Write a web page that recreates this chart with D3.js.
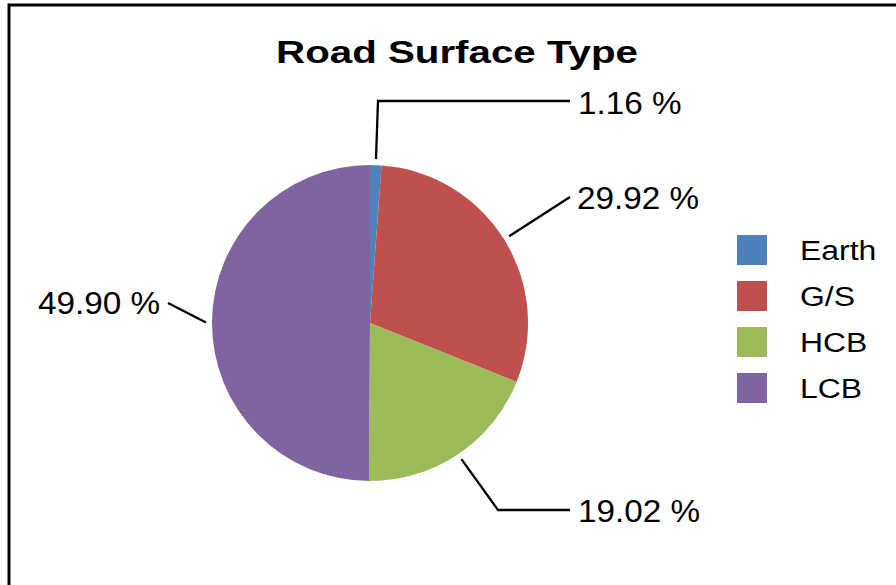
<!DOCTYPE html>
<html>
<head>
<meta charset="utf-8">
<script src="https://cdn.jsdelivr.net/npm/d3@7/dist/d3.min.js"></script>
<style>
  html, body { margin: 0; padding: 0; background: #fff; }
  svg { display: block; font-family: "Liberation Sans", Arial, sans-serif; }
</style>
</head>
<body>
<svg id="chart" width="896" height="585"></svg>
<script>
// ---- data ----
const categories = ["Earth", "G/S", "HCB", "LCB"];
const values = [1.16, 29.92, 19.02, 49.90];
const labels = ["1.16 %", "29.92 %", "19.02 %", "49.90 %"];
const colors = ["#4F81BD", "#C0504D", "#9BBB59", "#8064A2"];
const title = "Road Surface Type";

// ---- layout (style) ----
const W = 896, H = 585;
const cx = 370, cy = 323, R = 158;
const leaders = [
  { elbow: [378, 101], end: [570, 101], lx: 578, ly: 102, anchor: "start" },
  { elbow: null, end: [570, 197], lx: 577, ly: 197, anchor: "start" },
  { elbow: [498, 510], end: [570, 510], lx: 578, ly: 510, anchor: "start" },
  { elbow: null, end: [168, 303], lx: 160, ly: 302, anchor: "end" }
];

const svg = d3.select("#chart");
svg.append("rect").attr("width", W).attr("height", H).attr("fill", "#fff");

// frame (cut off at right & bottom)
svg.append("rect")
  .attr("x", 9).attr("y", 5)
  .attr("width", W + 20).attr("height", H + 20)
  .attr("fill", "none").attr("stroke", "#000").attr("stroke-width", 3);

// title
svg.append("text")
  .attr("text-anchor", "middle")
  .attr("font-weight", "bold")
  .attr("font-size", 31)
  .attr("fill", "#000")
  .attr("transform", `translate(457,63) scale(1.3,1)`)
  .text(title);

const color = d3.scaleOrdinal().domain(categories).range(colors);
const pie = d3.pie().sort(null).value(d => d.value);
const data = categories.map((c, i) => ({ cat: c, value: values[i], label: labels[i], lead: leaders[i] }));
const arcs = pie(data);
const arc = d3.arc().innerRadius(0).outerRadius(R);
const outer = d3.arc().innerRadius(R + 6).outerRadius(R + 6);

const g = svg.append("g").attr("transform", `translate(${cx},${cy})`);
g.selectAll("path.slice").data(arcs).join("path")
  .attr("class", "slice")
  .attr("d", arc)
  .attr("fill", d => color(d.data.cat));

// leader lines
const line = d3.line();
svg.selectAll("path.leader").data(arcs).join("path")
  .attr("class", "leader")
  .attr("fill", "none").attr("stroke", "#000").attr("stroke-width", 2.3)
  .attr("d", d => {
    const c = outer.centroid(d);
    const pts = [[cx + c[0], cy + c[1]]];
    if (d.data.lead.elbow) pts.push(d.data.lead.elbow);
    pts.push(d.data.lead.end);
    return line(pts);
  });

svg.selectAll("text.lbl").data(arcs).join("text")
  .attr("class", "lbl")
  .attr("transform", d => `translate(${d.data.lead.lx},${d.data.lead.ly}) scale(1.04,1)`)
  .attr("dy", "0.36em")
  .attr("text-anchor", d => d.data.lead.anchor)
  .attr("font-size", 32)
  .attr("fill", "#000")
  .text(d => d.data.label);

// legend
const legY = d3.scalePoint().domain(categories).range([250, 388]);
const leg = svg.append("g");
leg.selectAll("rect").data(categories).join("rect")
  .attr("x", 737).attr("y", d => legY(d) - 15)
  .attr("width", 30).attr("height", 30)
  .attr("fill", d => color(d));
leg.selectAll("text").data(categories).join("text")
  .attr("transform", d => `translate(800,${legY(d)}) scale(1.14,1)`)
  .attr("dy", "0.36em")
  .attr("font-size", 28)
  .attr("fill", "#000")
  .text(d => d);
</script>
</body>
</html>
